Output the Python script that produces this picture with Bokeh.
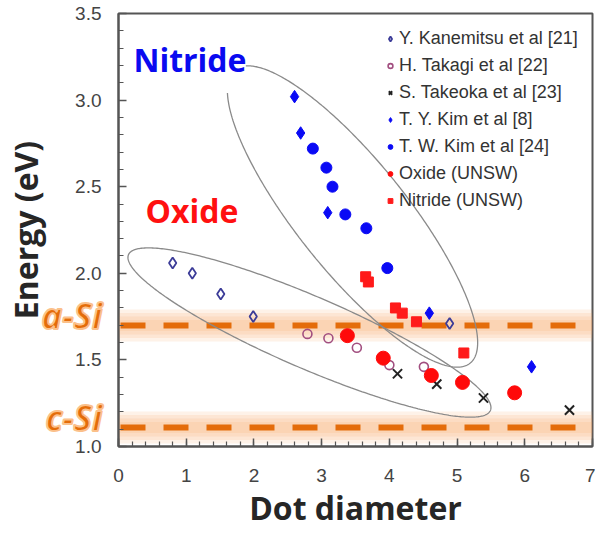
import numpy as np
from bokeh.plotting import figure
from bokeh.models import (Label, Legend, LegendItem, Range1d, SingleIntervalTicker,
                          LinearAxis, FixedTicker, PrintfTickFormatter)
from bokeh.embed import file_html
from bokeh.resources import INLINE

# ---------------- data ----------------
kan_x = [0.80, 1.09, 1.51, 1.99, 4.89]
kan_y = [2.06, 2.00, 1.88, 1.75, 1.71]
tak_x = [2.79, 3.10, 3.52, 4.00, 4.51]
tak_y = [1.65, 1.625, 1.57, 1.47, 1.46]
tko_x = [4.12, 4.70, 5.39, 6.66]
tko_y = [1.42, 1.36, 1.28, 1.21]
tyk_x = [2.60, 2.69, 3.09, 4.59, 6.10]
tyk_y = [3.02, 2.81, 2.35, 1.77, 1.46]
twk_x = [2.87, 3.07, 3.16, 3.35, 3.66, 3.97]
twk_y = [2.72, 2.61, 2.50, 2.34, 2.26, 2.03]
oxu_x = [3.38, 3.91, 4.62, 5.08, 5.85]
oxu_y = [1.64, 1.51, 1.41, 1.37, 1.31]
niu_x = [3.65, 3.69, 4.09, 4.19, 4.40, 5.10]
niu_y = [1.98, 1.95, 1.80, 1.77, 1.72, 1.54]

legend_labels = ["Y. Kanemitsu et al [21]", "H. Takagi et al [22]", "S. Takeoka et al [23]",
                 "T. Y. Kim et al [8]", "T. W. Kim et al [24]", "Oxide (UNSW)", "Nitride (UNSW)"]

a_si_gap = 1.70
c_si_gap = 1.11
band_names = ["a-Si", "c-Si"]

X0, X1, Y0, Y1 = 0.0, 7.0, 1.0, 3.5
W, H = 595, 533
BL, BR, BT, BB = 118, 3, 13, 87
FW, FH = W - BL - BR, H - BT - BB

ORANGE = "#e46c0a"
GLOW = "#f7a15a"

p = figure(width=W, height=H, output_backend="svg", toolbar_location=None,
           x_range=Range1d(X0, X1), y_range=Range1d(Y0, Y1),
           min_border_left=BL, min_border_right=BR, min_border_top=BT, min_border_bottom=BB)
p.xgrid.visible = False
p.ygrid.visible = False
p.outline_line_color = "#555555"
p.outline_line_width = 2
p.background_fill_color = "white"

p.xaxis.ticker = SingleIntervalTicker(interval=1, num_minor_ticks=5)
p.yaxis.ticker = SingleIntervalTicker(interval=0.5, num_minor_ticks=5)
p.yaxis.formatter = PrintfTickFormatter(format="%.1f")
for ax in (p.xaxis, p.yaxis):
    ax.axis_line_color = "#555555"
    ax.axis_line_width = 2
    ax.major_tick_line_color = "#555555"
    ax.minor_tick_line_color = "#555555"
    ax.major_tick_line_width = 1.5
    ax.minor_tick_line_width = 1.2
    ax.major_tick_in = 8
    ax.major_tick_out = 0
    ax.minor_tick_in = 5
    ax.minor_tick_out = 0
    ax.major_label_text_font = "Liberation Sans"
    ax.major_label_text_font_size = "19px"
    ax.major_label_text_color = "#444444"
p.xaxis.major_label_standoff = 22
p.yaxis.major_label_standoff = 17

p.xaxis.axis_label = "Dot diameter"
p.xaxis.axis_label_standoff = 1
p.xaxis.axis_label_text_font = "Open Sans"
p.xaxis.axis_label_text_font_style = "bold"
p.xaxis.axis_label_text_font_size = "32px"
p.xaxis.axis_label_text_color = "#262626"

# outer left axis: band names + y-axis title
a_si_label_y = a_si_gap + 0.056
c_si_label_y = c_si_gap + 0.055
ref_axis = LinearAxis(ticker=FixedTicker(ticks=[a_si_label_y, c_si_label_y], minor_ticks=[]),
                      major_label_overrides={a_si_label_y: band_names[0], c_si_label_y: band_names[1]},
                      axis_label="Energy (eV)")
ref_axis.axis_line_color = None
ref_axis.major_tick_line_color = None
ref_axis.minor_tick_line_color = None
ref_axis.major_tick_in = 0
ref_axis.major_tick_out = 0
ref_axis.minor_tick_in = 0
ref_axis.minor_tick_out = 0
ref_axis.major_label_standoff = -30
ref_axis.major_label_text_font = "Open Sans"
ref_axis.major_label_text_font_style = "bold italic"
ref_axis.major_label_text_font_size = "35px"
ref_axis.major_label_text_color = ORANGE
try:
    ref_axis.major_label_text_outline_color = "#fbc08a"
except AttributeError:
    pass
ref_axis.axis_label_standoff = -8
ref_axis.axis_label_text_font = "Open Sans"
ref_axis.axis_label_text_font_style = "bold"
ref_axis.axis_label_text_font_size = "32px"
ref_axis.axis_label_text_color = "#262626"
p.add_layout(ref_axis, "left")

# ---------------- glowing reference bands ----------------
for yv in (a_si_gap, c_si_gap):
    for lw in (32, 25, 18, 11):
        p.hspan(y=[yv], line_color=GLOW, line_alpha=0.14, line_width=lw)
    p.hspan(y=[yv], line_color=ORANGE, line_width=6, line_dash="25 18", line_dash_offset=-2)

# ---------------- ellipses ----------------
def ellipse_pts(cx, cy, a, b, ang_deg, t0, t1, n=400):
    t = np.linspace(t0, t1, n)
    th = np.radians(ang_deg)
    px = a * np.cos(t) * np.cos(th) - b * np.sin(t) * np.sin(th)
    py = a * np.cos(t) * np.sin(th) + b * np.sin(t) * np.cos(th)
    return cx + px * (X1 - X0) / FW, cy + py * (Y1 - Y0) / FH

ex, ey = ellipse_pts(2.82, 1.658, 197, 36, -23.3, 0, 2 * np.pi)
p.line(ex, ey, line_color="#8a8a8a", line_width=1.3)
nx, ny = ellipse_pts(3.456, 2.328, 188, 55, -51.3, np.pi + 0.38, 3 * np.pi - 0.2)
p.line(nx, ny, line_color="#8a8a8a", line_width=1.3)

# ---------------- data markers ----------------
r_kan = p.scatter(kan_x, kan_y, marker="diamond", size=11,
                  fill_color=None, line_color="#3c3c98", line_width=1.8)
r_tak = p.scatter(tak_x, tak_y, marker="circle", size=9,
                  fill_color=None, line_color="#a24f80", line_width=1.6)
r_tko = p.scatter(tko_x, tko_y, marker="x", size=13, line_color="#222222", line_width=2)
r_tyk = p.scatter(tyk_x, tyk_y, marker="diamond", size=12.5,
                  fill_color="#0a0af5", line_color="#0a0af5")
r_twk = p.scatter(twk_x, twk_y, marker="circle", size=11, fill_color="#0a0af5", line_color="#0a0af5")
r_oxu = p.scatter(oxu_x, oxu_y, marker="circle", size=14, fill_color="#ff0a0a", line_color="#ff0a0a")
r_niu = p.scatter(niu_x, niu_y, marker="square", size=10, fill_color="#ff1a1a", line_color="#ff1a1a")

renderers = [r_kan, r_tak, r_tko, r_tyk, r_twk, r_oxu, r_niu]
legend = Legend(items=[LegendItem(label=l, renderers=[r]) for l, r in zip(legend_labels, renderers)],
                location=(266, 232))
legend.glyph_width = 12
legend.glyph_height = 27
legend.label_height = 27
legend.label_standoff = 3
legend.spacing = 0
legend.padding = 0
legend.margin = 0
legend.border_line_alpha = 0
legend.background_fill_alpha = 0
legend.label_text_font = "Liberation Sans"
legend.label_text_font_size = "18px"
legend.label_text_color = "#333333"
p.add_layout(legend)

# ---------------- in-plot texts ----------------
p.add_layout(Label(x=0.22, y=3.234, text="Nitride", text_font="Open Sans", text_font_style="bold",
                   text_font_size="32px", text_color="#0a0af0", text_baseline="alphabetic"))
p.add_layout(Label(x=0.40, y=2.362, text="Oxide", text_font="Open Sans", text_font_style="bold",
                   text_font_size="32px", text_color="#ff1010", text_baseline="alphabetic"))

open("out.html", "w").write(file_html(p, INLINE))
